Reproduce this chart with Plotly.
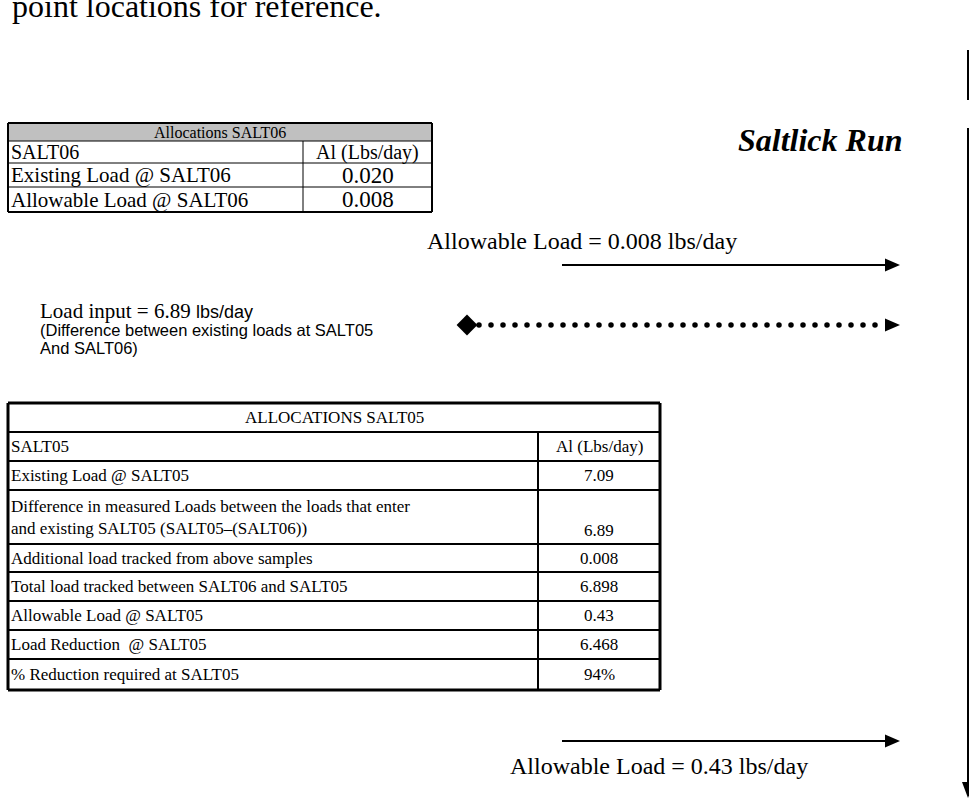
import numpy as np
import plotly.graph_objects as go

# ---------------- data ----------------
page_text = "point locations for reference."
river_name = "Saltlick Run"

t1_title = "Allocations SALT06"
t1_labels = ["SALT06", "Existing Load @ SALT06", "Allowable Load @ SALT06"]
t1_values = ["Al (Lbs/day)", "0.020", "0.008"]

t2_title = "ALLOCATIONS SALT05"
t2_labels = [
    "SALT05",
    "Existing Load @ SALT05",
    "Difference in measured Loads between the loads that enter<br>and existing SALT05 (SALT05\u2013(SALT06))",
    "Additional load tracked from above samples",
    "Total load tracked between SALT06 and SALT05",
    "Allowable Load @ SALT05",
    "Load Reduction \u00a0@ SALT05",
    "% Reduction required at SALT05",
]
t2_values = ["Al (Lbs/day)", "7.09", "6.89", "0.008", "6.898", "0.43", "6.468", "94%"]

upper_allowable = "0.008"
load_input = "6.89"
lower_allowable = "0.43"

# ---------------- layout geometry (pixels) ----------------
W, H = 969, 799
SERIF = "Liberation Serif, Times New Roman, serif"
SANS = "Liberation Sans Narrow, Arial Narrow, Liberation Sans, Arial, sans-serif"

t1_x = [8, 303, 432]
t1_y = [123, 141, 163, 187, 212]
t2_x = [8, 538, 660]
t2_y = [403, 432, 461, 490, 544, 572, 601, 630, 659, 690]

shapes = []
annots = []


def hline(x0, x1, y, w=1):
    shapes.append(dict(type="line", xref="x", yref="y", x0=x0, x1=x1, y0=y, y1=y,
                       line=dict(color="black", width=w)))


def vline(x, y0, y1, w=1):
    shapes.append(dict(type="line", xref="x", yref="y", x0=x, x1=x, y0=y0, y1=y1,
                       line=dict(color="black", width=w)))


def text(x, y, s, size, xanchor="left", family=SERIF, bold=False, italic=False):
    if bold:
        s = "<b>" + s + "</b>"
    if italic:
        s = "<i>" + s + "</i>"
    annots.append(dict(x=x, y=y, xref="x", yref="y", text=s, showarrow=False,
                       xanchor=xanchor, yanchor="middle", align="left",
                       font=dict(family=family, size=size, color="black")))


def arrow_right(x0, x1, y, w=2, head=15, half=6.5):
    if w > 0:
        hline(x0, x1 - head + 1, y, w)
    shapes.append(dict(type="path", xref="x", yref="y",
                       path=f"M {x1-head},{y-half} L {x1},{y} L {x1-head},{y+half} Z",
                       fillcolor="black", line=dict(color="black", width=0)))


# ---- page text ----
text(10, 6, page_text, 32)
text(905, 140, river_name, 32, xanchor="right", bold=True, italic=True)

# ---- table 1 ----
shapes.append(dict(type="rect", xref="x", yref="y", x0=t1_x[0], x1=t1_x[2], y0=t1_y[0], y1=t1_y[1],
                   fillcolor="#c0c0c0", line=dict(width=0), layer="below"))
for i, y in enumerate(t1_y):
    hline(t1_x[0], t1_x[2], y, 2 if i in (0, len(t1_y) - 1) else 1)
vline(t1_x[0], t1_y[0], t1_y[-1], 2)
vline(t1_x[2], t1_y[0], t1_y[-1], 2)
vline(t1_x[1], t1_y[1], t1_y[-1], 1)
text((t1_x[0] + t1_x[2]) / 2, (t1_y[0] + t1_y[1]) / 2, t1_title, 16, xanchor="center")
for i, (lab, val) in enumerate(zip(t1_labels, t1_values)):
    yc = (t1_y[i + 1] + t1_y[i + 2]) / 2
    text(t1_x[0] + 1, yc, lab, 21 if i else 20)
    text((t1_x[1] + t1_x[2]) / 2, yc, val, 20 if i == 0 else 23, xanchor="center")

# ---- arrows / notes ----
text(425, 241, f"Allowable Load = {upper_allowable} lbs/day", 24)
arrow_right(562, 900, 265)

text(38, 311, f"Load input = {load_input} <span style='font-family:{SANS};font-size:18px'>lbs/day</span>", 21)
text(38, 330, "(Difference between existing loads at SALT05", 16.5, family=SANS)
text(38, 348, "And SALT06)", 16.5, family=SANS)

dot_x = np.arange(479, 886, 12)
fig = go.Figure()
fig.add_trace(go.Scatter(x=dot_x, y=[325] * len(dot_x), mode="markers",
                         marker=dict(size=5.5, color="black"), hoverinfo="skip"))
fig.add_trace(go.Scatter(x=[467], y=[325], mode="markers",
                         marker=dict(symbol="diamond", size=16, color="black"), hoverinfo="skip"))
arrow_right(886, 900, 325, w=0)

# ---- table 2 ----
for i, y in enumerate(t2_y):
    hline(t2_x[0], t2_x[2], y, 3 if i in (0, len(t2_y) - 1) else 2)
vline(t2_x[0], t2_y[0], t2_y[-1], 3)
vline(t2_x[2], t2_y[0], t2_y[-1], 3)
vline(t2_x[1], t2_y[1], t2_y[-1], 2)
text((t2_x[0] + t2_x[2]) / 2, (t2_y[0] + t2_y[1]) / 2, t2_title, 17, xanchor="center")
for i, (lab, val) in enumerate(zip(t2_labels, t2_values)):
    y0, y1 = t2_y[i + 1], t2_y[i + 2]
    yc = (y0 + y1) / 2
    text(t2_x[0] + 1, yc, lab, 17)
    vy = y1 - 14 if "<br>" in lab else yc
    text((t2_x[1] + t2_x[2]) / 2, vy, val, 17, xanchor="center")

# ---- lower arrow ----
arrow_right(562, 900, 741)
text(508, 766, f"Allowable Load = {lower_allowable} lbs/day", 24)

# ---- right side river line ----
vline(968, 50, 100, 2)
vline(968, 128, 785, 2)
shapes.append(dict(type="path", xref="x", yref="y",
                   path="M 962,782 L 974,782 L 968,798 Z",
                   fillcolor="black", line=dict(color="black", width=0)))

fig.update_layout(
    width=W, height=H, margin=dict(l=0, r=0, t=0, b=0),
    paper_bgcolor="white", plot_bgcolor="white", showlegend=False,
    xaxis=dict(range=[0, W], visible=False, fixedrange=True),
    yaxis=dict(range=[H, 0], visible=False, fixedrange=True),
    shapes=shapes, annotations=annots,
)
fig.write_html("out.html", config={"displayModeBar": False},
               post_script="document.body.style.margin='0px';document.body.style.overflow='hidden';")
